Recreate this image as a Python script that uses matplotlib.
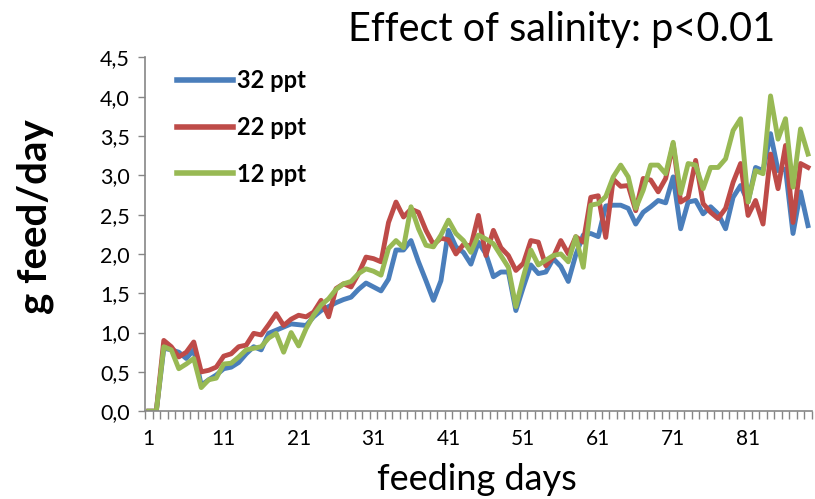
import numpy as np
import matplotlib
matplotlib.use("Agg")
import matplotlib.pyplot as plt

plt.rcParams['font.family'] = ['Lato', 'DejaVu Sans']

# feeding day index
days = np.arange(1, 90)

feed_32ppt = [0, 0, 0.80, 0.78, 0.75, 0.67, 0.78, 0.33, 0.40, 0.46,
              0.54, 0.56, 0.62, 0.73, 0.82, 0.78, 0.99, 1.03, 1.07, 1.11,
              1.10, 1.09, 1.20, 1.28, 1.33, 1.38, 1.42, 1.45, 1.55, 1.63,
              1.58, 1.53, 1.68, 2.05, 2.05, 2.17, 1.90, 1.66, 1.41, 1.66,
              2.30, 2.09, 2.02, 1.87, 2.15, 2.00, 1.71, 1.77, 1.77, 1.28,
              1.58, 1.86, 1.75, 1.77, 1.94, 1.84, 1.65, 1.99, 2.24, 2.26,
              2.22, 2.61, 2.62, 2.62, 2.58, 2.38, 2.53, 2.60, 2.68, 2.65,
              2.98, 2.32, 2.66, 2.68, 2.51, 2.60, 2.51, 2.32, 2.72, 2.87,
              2.66, 3.10, 3.06, 3.53, 3.06, 3.08, 2.26, 2.79, 2.36]

feed_22ppt = [0, 0, 0.90, 0.82, 0.69, 0.75, 0.88, 0.50, 0.52, 0.56,
              0.70, 0.73, 0.82, 0.84, 0.99, 0.97, 1.10, 1.24, 1.09, 1.17,
              1.22, 1.20, 1.26, 1.41, 1.20, 1.56, 1.62, 1.58, 1.75, 1.96,
              1.94, 1.90, 2.40, 2.66, 2.47, 2.57, 2.53, 2.30, 2.12, 2.20,
              2.18, 2.00, 2.12, 2.10, 2.49, 1.98, 2.30, 2.08, 1.98, 1.79,
              1.88, 2.17, 2.15, 1.85, 1.96, 2.17, 2.00, 2.22, 2.15, 2.72,
              2.74, 2.21, 2.95, 2.86, 2.87, 2.55, 2.96, 2.94, 2.79, 2.96,
              3.40, 2.66, 2.72, 3.19, 2.64, 2.53, 2.45, 2.58, 2.91, 3.15,
              2.49, 2.68, 2.38, 3.27, 2.83, 3.38, 2.40, 3.15, 3.10]

feed_12ppt = [0, 0, 0.82, 0.78, 0.54, 0.60, 0.67, 0.30, 0.40, 0.42,
              0.60, 0.61, 0.69, 0.78, 0.80, 0.82, 0.93, 0.99, 0.75, 1.00,
              0.83, 1.05, 1.22, 1.35, 1.43, 1.55, 1.62, 1.65, 1.75, 1.81,
              1.78, 1.73, 2.07, 2.17, 2.08, 2.60, 2.32, 2.11, 2.09, 2.24,
              2.43, 2.26, 2.17, 2.02, 2.24, 2.19, 2.13, 1.98, 1.83, 1.33,
              1.71, 2.05, 1.86, 1.92, 1.98, 2.00, 1.90, 2.22, 1.83, 2.62,
              2.64, 2.73, 2.98, 3.13, 2.98, 2.58, 2.81, 3.13, 3.13, 3.02,
              3.42, 2.77, 3.15, 3.13, 2.83, 3.10, 3.10, 3.21, 3.57, 3.72,
              2.66, 3.06, 3.02, 4.01, 3.46, 3.72, 2.85, 3.59, 3.27]

series_labels = ["32 ppt", "22 ppt", "12 ppt"]
series_colors = ["#4A7EBB", "#BE4B48", "#98B954"]

x_tick_days = [1, 11, 21, 31, 41, 51, 61, 71, 81]
y_ticks = [0.0, 0.5, 1.0, 1.5, 2.0, 2.5, 3.0, 3.5, 4.0, 4.5]
y_tick_labels = ["0,0", "0,5", "1,0", "1,5", "2,0", "2,5", "3,0", "3,5", "4,0", "4,5"]

fig = plt.figure(figsize=(8.15, 4.99), dpi=100)
ax = fig.add_axes([0.178, 0.176, 0.818, 0.709])

for vals, lab, col in zip([feed_32ppt, feed_22ppt, feed_12ppt], series_labels, series_colors):
    ax.plot(days, vals, color=col, lw=3.5, label=lab, solid_joinstyle="round")

ax.set_xlim(0.5, len(days) + 0.5)
ax.set_ylim(0, 4.5)

axis_grey = "#868686"
for s in ["top", "right"]:
    ax.spines[s].set_visible(False)
for s in ["left", "bottom"]:
    ax.spines[s].set_color(axis_grey)
    ax.spines[s].set_linewidth(1.2)

ax.set_yticks(y_ticks)
ax.set_yticklabels(y_tick_labels, fontsize=15.5)
ax.tick_params(axis="y", direction="out", length=5, color=axis_grey, width=1.0, pad=6)

# category boundaries as minor ticks, labels on every 10th day
ax.set_xticks(np.arange(0.5, len(days) + 1), minor=True)
ax.set_xticks(x_tick_days)
ax.set_xticklabels([str(d) for d in x_tick_days], fontsize=15)
ax.tick_params(axis="x", which="major", length=0, pad=13)
ax.tick_params(axis="x", which="minor", direction="out", length=6, color=axis_grey, width=1.0)

fig.text(477 / 815, 0.018, "feeding days", fontsize=26, ha="center", va="baseline")
fig.text(35 / 815, (499 - 217) / 499, "g feed/day", fontsize=29, fontweight="bold",
         rotation=90, ha="center", va="center")

leg = ax.legend(loc="upper left", bbox_to_anchor=(0.048, 0.966), frameon=False,
                borderaxespad=0, borderpad=0, handlelength=2.35, handletextpad=0.2,
                labelspacing=1.0, prop={"size": 17, "weight": "bold"})
for h in leg.get_lines():
    h.set_linewidth(4)

fig.text(775 / 815, 0.918, "Effect of salinity: p<0.01", fontsize=28.5,
         ha="right", va="baseline")

fig.savefig("out.png", dpi=100)
